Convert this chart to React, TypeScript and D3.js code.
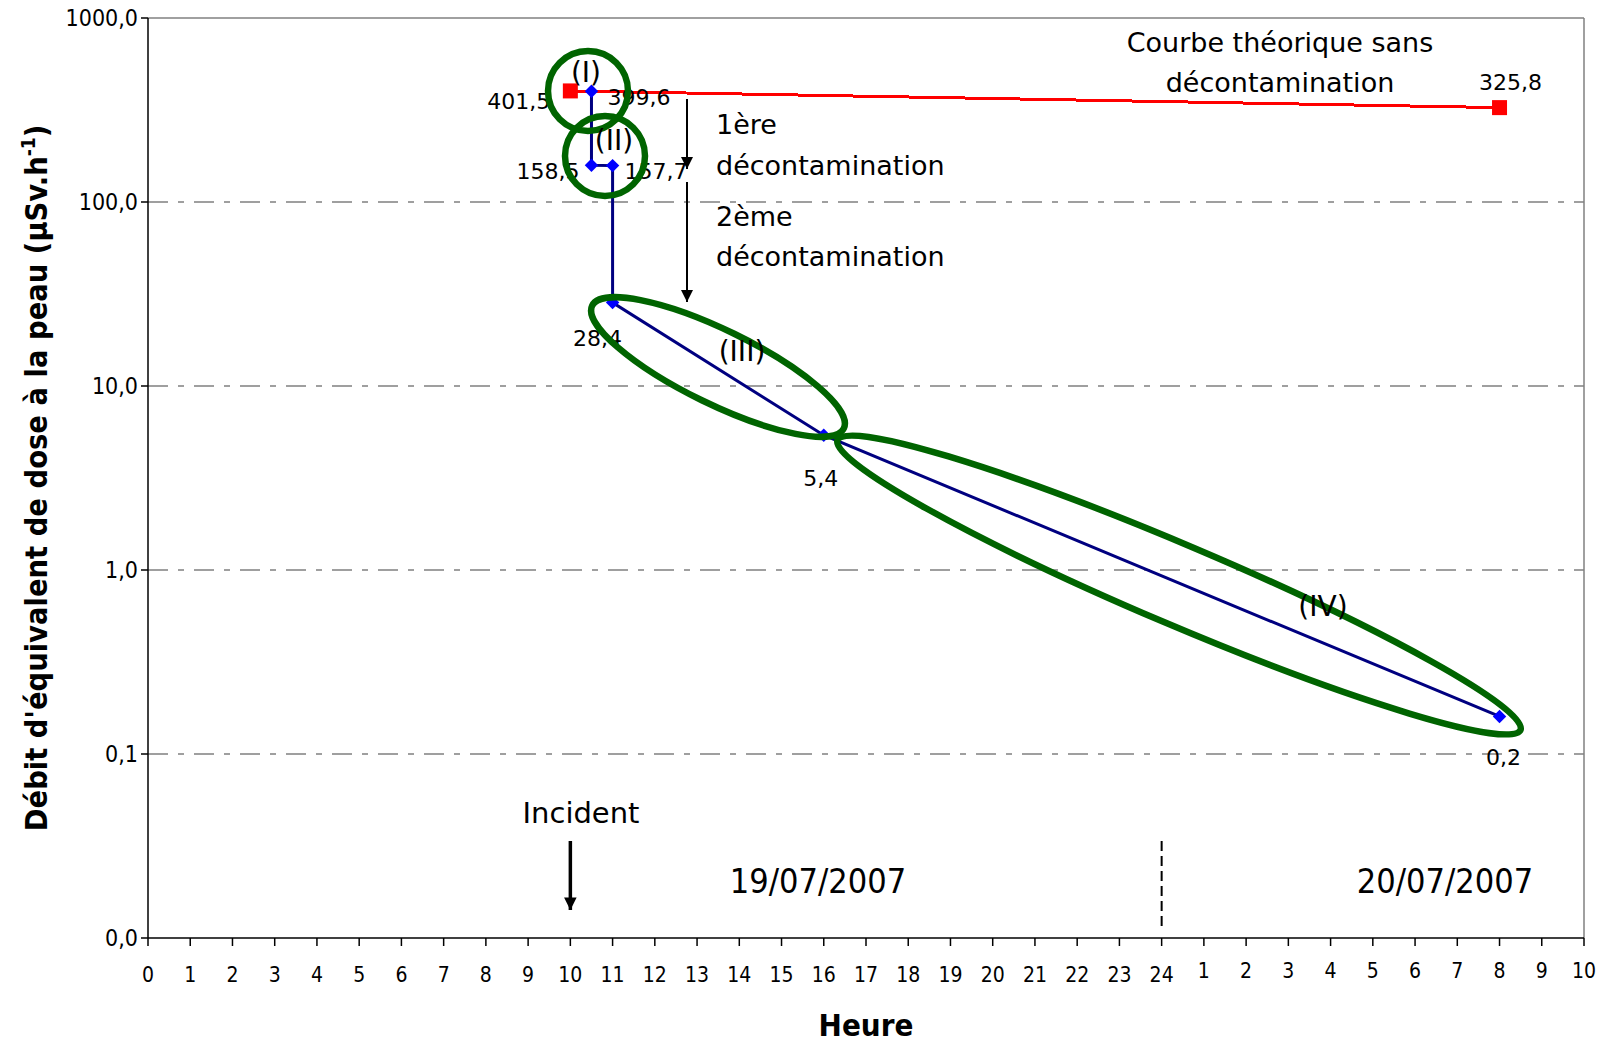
import * as d3 from "d3";

// mesures (heures cumulées depuis 0h le 19/07)
const measuredHours = [10.5, 10.5, 11, 11, 16, 32];
const measuredValues = [399.6, 158.5, 157.7, 28.4, 5.4, 0.16];
const measuredLabels = ["399,6", "158,5", "157,7", "28,4", "5,4", "0,2"];

// courbe théorique sans décontamination
const theoHours = [10, 32];
const theoValues = [401.5, 325.8];
const theoLabels = ["401,5", "325,8"];

const yTicks = [0.01, 0.1, 1, 10, 100, 1000];
const yTickLabels = ["0,0", "0,1", "1,0", "10,0", "100,0", "1000,0"];
const gridValues = [0.1, 1, 10, 100];

const hourTicks = [
  0, 1, 2, 3, 4, 5, 6, 7, 8, 9, 10, 11, 12, 13, 14, 15, 16, 17, 18, 19, 20, 21,
  22, 23, 24, 25, 26, 27, 28, 29, 30, 31, 32, 33, 34,
];
const hourLabels = [
  "0", "1", "2", "3", "4", "5", "6", "7", "8", "9", "10", "11", "12", "13",
  "14", "15", "16", "17", "18", "19", "20", "21", "22", "23", "24", "1", "2",
  "3", "4", "5", "6", "7", "8", "9", "10",
];

// placement des étiquettes (décalage en px par rapport au point)
const measuredLabelPos = [
  { dx: 16, dy: 14, anchor: "start" },
  { dx: -12, dy: 14, anchor: "end" },
  { dx: 12, dy: 13, anchor: "start" },
  { dx: -15, dy: 43, anchor: "middle" },
  { dx: -3, dy: 51, anchor: "middle" },
  { dx: 4, dy: 49, anchor: "middle" },
];
const theoLabelPos = [
  { dx: -20, dy: 18, anchor: "end" },
  { dx: 11, dy: -18, anchor: "middle" },
];

const W = 1604;
const H = 1042;
const left = 148;
const right = 1584;
const top = 18;
const bottom = 938;

const sans = "'DejaVu Sans', Verdana, sans-serif";
const narrow = "'DejaVu Sans Condensed', 'DejaVu Sans', sans-serif";

export default function App() {
  const x = d3.scaleLinear().domain([0, 34]).range([left, right]);
  const y = d3.scaleLog().domain([0.01, 1000]).range([bottom, top]);

  const line = d3
    .line<number>()
    .x((_, i) => x(measuredHours[i]))
    .y((d) => y(d));
  const theoLine = d3
    .line<number>()
    .x((_, i) => x(theoHours[i]))
    .y((d) => y(d));

  const diamond = d3.symbol().type(d3.symbolDiamond2).size(115)();

  const green = "#006400";

  return (
    <svg
      width={W}
      height={H}
      style={{ position: "absolute", left: 0, top: 0, background: "#fff" }}
    >
      <defs>
        <marker
          id="arr"
          viewBox="0 0 10 10"
          refX="10"
          refY="5"
          markerWidth="6"
          markerHeight="6"
          markerUnits="strokeWidth"
          orient="auto"
        >
          <path d="M0,0 L10,5 L0,10 z" fill="#000" />
        </marker>
        <marker
          id="arrBig"
          viewBox="0 0 10 10"
          refX="10"
          refY="5"
          markerWidth="4"
          markerHeight="3.6"
          markerUnits="strokeWidth"
          orient="auto"
        >
          <path d="M0,0 L10,5 L0,10 z" fill="#000" />
        </marker>
      </defs>

      {/* quadrillage */}
      {gridValues.map((v) => (
        <line
          key={v}
          x1={left}
          x2={right}
          y1={y(v)}
          y2={y(v)}
          stroke="#808080"
          strokeWidth={1.5}
          strokeDasharray="20,10,6,10"
        />
      ))}
      <line x1={left} x2={right} y1={top} y2={top} stroke="#808080" strokeWidth={1.5} />
      <line x1={right} x2={right} y1={top} y2={bottom} stroke="#808080" strokeWidth={1.5} />

      {/* axes */}
      <line x1={left} x2={left} y1={top} y2={bottom} stroke="#000" strokeWidth={1.5} />
      <line x1={left} x2={right} y1={bottom} y2={bottom} stroke="#000" strokeWidth={1.5} />
      {yTicks.map((v, i) => (
        <g key={v}>
          <line x1={left - 7} x2={left} y1={y(v)} y2={y(v)} stroke="#000" strokeWidth={1.5} />
          <text
            x={left - 10}
            y={y(v) + 8}
            textAnchor="end"
            fontFamily={narrow}
            fontSize={23}
            fill="#000"
          >
            {yTickLabels[i]}
          </text>
        </g>
      ))}
      {hourTicks.map((h, i) => (
        <g key={h}>
          <line x1={x(h)} x2={x(h)} y1={bottom} y2={bottom + 8} stroke="#000" strokeWidth={1.5} />
          <text
            x={x(h)}
            y={h > 24 ? bottom + 40 : bottom + 44}
            textAnchor="middle"
            fontFamily={narrow}
            fontSize={21}
            fill="#000"
          >
            {hourLabels[i]}
          </text>
        </g>
      ))}

      {/* titres des axes */}
      <text
        x={866}
        y={1036}
        textAnchor="middle"
        fontFamily={narrow}
        fontWeight="bold"
        fontSize={31}
        fill="#000"
      >
        Heure
      </text>
      <text
        transform={`translate(47,478) rotate(-90)`}
        textAnchor="middle"
        fontFamily={narrow}
        fontWeight="bold"
        fontSize={30.5}
        fill="#000"
      >
        Débit d'équivalent de dose à la peau (µSv.h
        <tspan dy={-12} fontSize={19}>-1</tspan>
        <tspan dy={12}>)</tspan>
      </text>

      {/* séries */}
      <path d={line(measuredValues) ?? ""} fill="none" stroke="#000080" strokeWidth={3} />
      <path
        d={theoLine(theoValues) ?? ""}
        fill="none"
        stroke="#ff0000"
        strokeWidth={3}
        shapeRendering="crispEdges"
      />
      {theoValues.map((v, i) => (
        <rect
          key={i}
          x={x(theoHours[i]) - 7.5}
          y={y(v) - 7.5}
          width={15}
          height={15}
          fill="#ff0000"
        />
      ))}
      {measuredValues.map((v, i) => (
        <path
          key={i}
          d={diamond ?? ""}
          transform={`translate(${x(measuredHours[i])},${y(v)})`}
          fill="#0000ff"
        />
      ))}

      {/* étiquettes de données */}
      {measuredValues.map((v, i) => (
        <text
          key={i}
          x={x(measuredHours[i]) + measuredLabelPos[i].dx}
          y={y(v) + measuredLabelPos[i].dy}
          textAnchor={measuredLabelPos[i].anchor}
          fontFamily={sans}
          fontSize={22}
          fill="#000"
        >
          {measuredLabels[i]}
        </text>
      ))}
      {theoValues.map((v, i) => (
        <text
          key={i}
          x={x(theoHours[i]) + theoLabelPos[i].dx}
          y={y(v) + theoLabelPos[i].dy}
          textAnchor={theoLabelPos[i].anchor}
          fontFamily={sans}
          fontSize={22}
          fill="#000"
        >
          {theoLabels[i]}
        </text>
      ))}

      {/* zones (I) à (IV) */}
      <g fill="none" stroke={green} strokeWidth={6.5}>
        <circle cx={588} cy={91} r={40} />
        <circle cx={605} cy={156} r={40} />
        <ellipse cx={718} cy={367} rx={140} ry={37} transform="rotate(26 718 367)" />
        <ellipse cx={1179} cy={585} rx={371} ry={40} transform="rotate(23 1179 585)" />
      </g>
      <g fontFamily={sans} fontSize={28} fill="#000" textAnchor="middle">
        <text x={586} y={82}>(I)</text>
        <text x={614} y={150}>(II)</text>
        <text x={742} y={361}>(III)</text>
        <text x={1323} y={616}>(IV)</text>
      </g>

      {/* annotations */}
      <g fontFamily={sans} fontSize={27} fill="#000">
        <text x={1280} y={52} textAnchor="middle">Courbe théorique sans</text>
        <text x={1280} y={92} textAnchor="middle">décontamination</text>
        <text x={716} y={134}>1ère</text>
        <text x={716} y={175}>décontamination</text>
        <text x={716} y={226}>2ème</text>
        <text x={716} y={266}>décontamination</text>
        <text x={581} y={823} textAnchor="middle" fontSize={29}>Incident</text>
      </g>
      <line x1={687} x2={687} y1={99} y2={169} stroke="#000" strokeWidth={2} markerEnd="url(#arr)" />
      <line x1={687} x2={687} y1={182} y2={302} stroke="#000" strokeWidth={2} markerEnd="url(#arr)" />
      <line
        x1={x(10)}
        x2={x(10)}
        y1={841}
        y2={910}
        stroke="#000"
        strokeWidth={3.5}
        markerEnd="url(#arrBig)"
      />
      <line
        x1={x(24)}
        x2={x(24)}
        y1={841}
        y2={931}
        stroke="#000"
        strokeWidth={2}
        strokeDasharray="10,5"
      />
      <g fontFamily={narrow} fontSize={34} fill="#000" textAnchor="middle">
        <text x={818} y={893}>19/07/2007</text>
        <text x={1445} y={893}>20/07/2007</text>
      </g>
    </svg>
  );
}
